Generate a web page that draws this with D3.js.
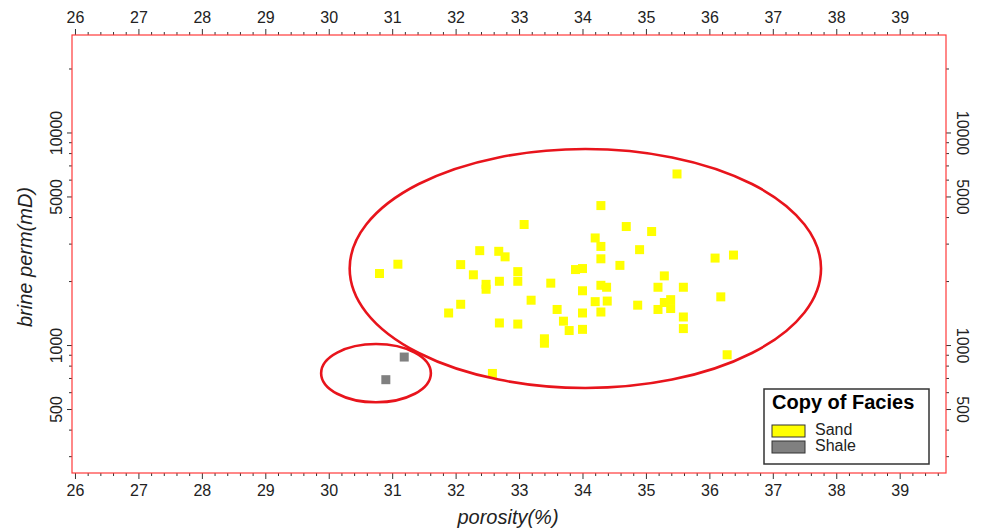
<!DOCTYPE html>
<html>
<head>
<meta charset="utf-8">
<script src="https://cdn.jsdelivr.net/npm/d3@7"></script>
<style>
  body { margin: 0; background: #fff; }
  svg { display: block; font-family: Arial, "Liberation Sans", sans-serif; }
</style>
</head>
<body>
<svg id="chart" width="983" height="531"></svg>
<script>
// DATA
// sand samples: porosity (%) and brine permeability (mD)
var sandPorosity = [34.29, 33.08, 34.69, 34.20, 34.29, 32.38, 32.68, 32.78, 34.90, 34.29,
  32.08, 31.09, 30.80, 34.59, 33.89, 34.00, 32.28, 32.98, 32.98, 32.69,
  32.48, 32.48, 33.50, 34.00, 34.29, 34.38, 34.20, 34.39, 34.87, 33.19,
  32.08, 31.89, 33.60, 34.00, 34.29, 33.70, 32.69, 32.98, 33.79, 34.00,
  33.40, 33.40, 32.58, 35.49, 35.09, 36.09, 36.38, 35.29, 35.19, 35.59,
  35.29, 35.39, 35.39, 35.19, 36.18, 35.59, 35.59, 36.28];
var sandPerm = [4530, 3690, 3610, 3190, 2910, 2780, 2760, 2600, 2810, 2545,
  2390, 2400, 2170, 2370, 2265, 2290, 2140, 2215, 1995, 1995,
  1930, 1830, 1955, 1800, 1910, 1870, 1600, 1610, 1540, 1625,
  1555, 1415, 1470, 1415, 1430, 1295, 1270, 1255, 1170, 1185,
  1070, 1020, 735, 6380, 3420, 2565, 2650, 2115, 1870, 1870,
  1585, 1635, 1485, 1470, 1685, 1355, 1195, 900];
// shale samples
var shalePorosity = [31.19, 30.90];
var shalePerm = [878, 687];

// legend
var faciesNames = ["Sand", "Shale"];
var faciesColors = ["#ffff00", "#808080"];

// tick values
var xTicks = [26, 27, 28, 29, 30, 31, 32, 33, 34, 35, 36, 37, 38, 39];
var yMajorTicks = [500, 1000, 5000, 10000];
var yMinorTicks = [300, 400, 600, 700, 800, 900, 2000, 3000, 4000, 6000, 7000, 8000, 9000, 20000];

// hand drawn ellipses, as data ranges [porosity min, max], [perm min, max]
var ellipsePorosity = [[30.33, 37.76], [29.88, 31.61]];
var ellipsePerm = [[628, 8360], [538, 1011]];

// LAYOUT
var plotLeft = 72, plotRight = 946, plotTop = 35, plotBottom = 473;

var x = d3.scaleLinear().domain([25.953, 39.73]).range([plotLeft, plotRight]);
var y = d3.scaleLog().domain([250, 28750]).range([plotBottom, plotTop]);

var svg = d3.select("#chart");
var tickColor = "#333";

// minor x ticks every 0.2
var xMinor = d3.range(26, 39.7, 0.2).map(function(d) { return Math.round(d * 10) / 10; })
  .filter(function(d) { return xTicks.indexOf(d) < 0; });

var noDomain = function(g) { g.select(".domain").remove(); };

// bottom axis
svg.append("g")
  .attr("transform", "translate(0," + plotBottom + ")")
  .call(d3.axisBottom(x).tickValues(xMinor).tickSize(3).tickFormat(""))
  .call(noDomain);
var bottomAx = svg.append("g")
  .attr("transform", "translate(0," + plotBottom + ")")
  .call(d3.axisBottom(x).tickValues(xTicks).tickSize(6).tickPadding(6).tickFormat(d3.format("d")))
  .call(noDomain);

// top axis
svg.append("g")
  .attr("transform", "translate(0," + plotTop + ")")
  .call(d3.axisTop(x).tickValues(xMinor).tickSize(3).tickFormat(""))
  .call(noDomain);
var topAx = svg.append("g")
  .attr("transform", "translate(0," + plotTop + ")")
  .call(d3.axisTop(x).tickValues(xTicks).tickSize(6).tickPadding(6).tickFormat(d3.format("d")))
  .call(noDomain);

// left axis
svg.append("g")
  .attr("transform", "translate(" + plotLeft + ",0)")
  .call(d3.axisLeft(y).tickValues(yMinorTicks).tickSize(3).tickFormat(""))
  .call(noDomain);
var leftAx = svg.append("g")
  .attr("transform", "translate(" + plotLeft + ",0)")
  .call(d3.axisLeft(y).tickValues(yMajorTicks).tickSize(5).tickFormat(d3.format("d")))
  .call(noDomain);

// right axis
svg.append("g")
  .attr("transform", "translate(" + plotRight + ",0)")
  .call(d3.axisRight(y).tickValues(yMinorTicks).tickSize(3).tickFormat(""))
  .call(noDomain);
var rightAx = svg.append("g")
  .attr("transform", "translate(" + plotRight + ",0)")
  .call(d3.axisRight(y).tickValues(yMajorTicks).tickSize(5).tickFormat(d3.format("d")))
  .call(noDomain);

// styles for all axes
svg.selectAll(".tick line").attr("stroke", tickColor);
svg.selectAll(".tick text").attr("fill", "#222").attr("font-family", "Arial, 'Liberation Sans', sans-serif");
bottomAx.selectAll("text").attr("font-size", 16);
topAx.selectAll("text").attr("font-size", 16);

// rotated y labels
leftAx.selectAll("text")
  .attr("x", null).attr("dy", null)
  .attr("font-size", 16)
  .attr("text-anchor", "middle")
  .attr("transform", "translate(-10,0) rotate(-90)");
rightAx.selectAll("text")
  .attr("x", null).attr("dy", null)
  .attr("font-size", 16)
  .attr("text-anchor", "middle")
  .attr("transform", "translate(11,0) rotate(90)");

// plot frame
svg.append("rect")
  .attr("x", plotLeft).attr("y", plotTop)
  .attr("width", plotRight - plotLeft).attr("height", plotBottom - plotTop)
  .attr("fill", "none")
  .attr("stroke", "#ff3a3a")
  .attr("stroke-width", 1.2);

// axis titles
svg.append("text")
  .attr("x", 508).attr("y", 524)
  .attr("text-anchor", "middle")
  .attr("font-size", 20).attr("font-style", "italic")
  .attr("fill", "#222")
  .text("porosity(%)");
svg.append("text")
  .attr("transform", "translate(32,257) rotate(-90)")
  .attr("text-anchor", "middle")
  .attr("font-size", 20).attr("font-style", "italic")
  .attr("fill", "#222")
  .text("brine perm(mD)");

// points
var sand = sandPorosity.map(function(p, i) { return { x: p, y: sandPerm[i] }; });
var shale = shalePorosity.map(function(p, i) { return { x: p, y: shalePerm[i] }; });
var size = 9;

svg.append("g").selectAll("rect")
  .data(sand)
  .enter()
  .append("rect")
  .attr("x", function(d) { return x(d.x) - size / 2; })
  .attr("y", function(d) { return y(d.y) - size / 2; })
  .attr("width", size).attr("height", size)
  .attr("fill", faciesColors[0]);

svg.append("g").selectAll("rect")
  .data(shale)
  .enter()
  .append("rect")
  .attr("x", function(d) { return x(d.x) - size / 2; })
  .attr("y", function(d) { return y(d.y) - size / 2; })
  .attr("width", size).attr("height", size)
  .attr("fill", faciesColors[1]);

// ellipses
svg.append("g").selectAll("ellipse")
  .data(ellipsePorosity)
  .enter()
  .append("ellipse")
  .attr("cx", function(d) { return (x(d[0]) + x(d[1])) / 2; })
  .attr("cy", function(d, i) { return (y(ellipsePerm[i][0]) + y(ellipsePerm[i][1])) / 2; })
  .attr("rx", function(d) { return (x(d[1]) - x(d[0])) / 2; })
  .attr("ry", function(d, i) { return (y(ellipsePerm[i][0]) - y(ellipsePerm[i][1])) / 2; })
  .attr("fill", "none")
  .attr("stroke", "#e8141c")
  .attr("stroke-width", 2.6);

// legend
var legend = svg.append("g");
legend.append("rect")
  .attr("x", 764).attr("y", 389)
  .attr("width", 165).attr("height", 75)
  .attr("fill", "#fff")
  .attr("stroke", "#333")
  .attr("stroke-width", 1.5);
legend.append("text")
  .attr("x", 772).attr("y", 409)
  .attr("font-size", 20).attr("font-weight", "bold")
  .attr("fill", "#000")
  .text("Copy of Facies");
faciesNames.forEach(function(name, i) {
  legend.append("rect")
    .attr("x", 772).attr("y", 425 + i * 16)
    .attr("width", 33).attr("height", 12)
    .attr("fill", faciesColors[i])
    .attr("stroke", "#333")
    .attr("stroke-width", 1);
  legend.append("text")
    .attr("x", 815).attr("y", 435 + i * 16)
    .attr("font-size", 16)
    .attr("fill", "#222")
    .text(name);
});
</script>
</body>
</html>
